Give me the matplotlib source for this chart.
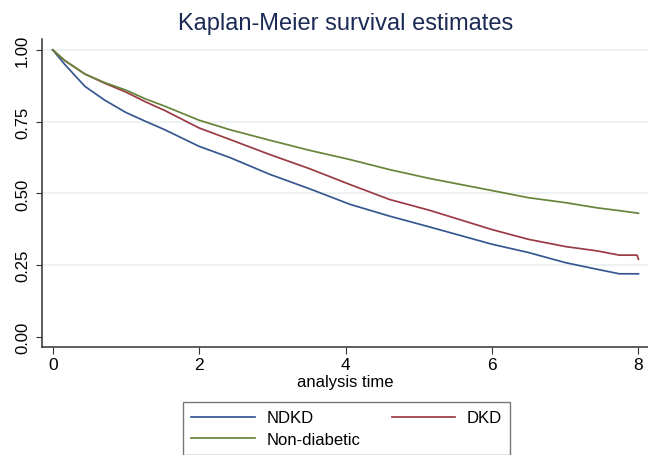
import numpy as np
import matplotlib.pyplot as plt

plt.rcParams['font.family'] = ['Liberation Sans', 'DejaVu Sans']

# values (analysis time, survival)
t_ndkd = [0, 0.17, 0.44, 0.71, 1.0, 1.26, 1.53, 2.0, 2.42, 2.97, 3.51, 4.06, 4.6, 5.15, 6.0, 6.5, 7.0, 7.43, 7.74, 8.0]
s_ndkd = [1.0, 0.948, 0.873, 0.825, 0.782, 0.752, 0.722, 0.664, 0.625, 0.566, 0.516, 0.462, 0.421, 0.383, 0.323, 0.294, 0.259, 0.236, 0.22, 0.22]

t_dkd = [0, 0.17, 0.44, 0.71, 1.0, 1.26, 1.53, 2.0, 2.42, 2.97, 3.51, 4.06, 4.6, 5.15, 6.0, 6.5, 7.0, 7.43, 7.74, 7.98, 8.0]
s_dkd = [1.0, 0.962, 0.916, 0.884, 0.853, 0.820, 0.789, 0.728, 0.688, 0.635, 0.586, 0.531, 0.479, 0.441, 0.374, 0.340, 0.315, 0.300, 0.285, 0.285, 0.271]

t_nond = [0, 0.17, 0.44, 0.71, 1.0, 1.26, 1.53, 2.0, 2.42, 2.97, 3.51, 4.06, 4.6, 5.15, 6.0, 6.5, 7.0, 7.43, 7.74, 8.0]
s_nond = [1.0, 0.962, 0.916, 0.886, 0.860, 0.830, 0.804, 0.755, 0.722, 0.685, 0.650, 0.618, 0.583, 0.552, 0.510, 0.485, 0.468, 0.45, 0.44, 0.431]

xticks = [0, 2, 4, 6, 8]
yticks = [0.0, 0.25, 0.5, 0.75, 1.0]

fig = plt.figure(figsize=(6.48, 4.56), dpi=100)
ax = fig.add_axes([42/648, 108/456, 1 - 42/648, (348-40)/456])

# grid (Stata style, not at 0)
for yv in yticks[1:]:
    ax.axhline(yv, color='#e9efef', lw=1.2, zorder=0)

l1, = ax.plot(t_ndkd, s_ndkd, color='#36578f', lw=1.25, label='NDKD')
l2, = ax.plot(t_dkd, s_dkd, color='#9a3b43', lw=1.25, label='DKD')
l3, = ax.plot(t_nond, s_nond, color='#66843a', lw=1.25, label='Non-diabetic')

ax.set_xlim(-0.146, 8.13)
ax.set_ylim(-0.035, 1.038)
ax.set_xticks(xticks)
ax.set_yticks(yticks)
ax.set_yticklabels(['%.2f' % v for v in yticks], rotation=90, va='center')
ax.tick_params(axis='y', length=4, pad=4.5, labelsize=12, color='#333333')
ax.tick_params(axis='x', length=5, pad=2, labelsize=12.5, color='#333333')

for side in ['top', 'right']:
    ax.spines[side].set_visible(False)
for side in ['left', 'bottom']:
    ax.spines[side].set_color('#333333')
    ax.spines[side].set_linewidth(1.1)

ax.set_xlabel('analysis time', fontsize=12, labelpad=2)
fig.text(346/648, 1 - 24/456, 'Kaplan-Meier survival estimates', fontsize=17,
         color='#1c2b55', ha='center', va='center')

# column-major fill: NDKD / Non-diabetic in col 1, DKD in col 2
leg = fig.legend([l1, l3, l2], ['NDKD', 'Non-diabetic', 'DKD'],
                 loc='upper left', bbox_to_anchor=(183/648, 1 - 403/456), ncol=2,
                 fontsize=12, handlelength=3.8, handletextpad=0.7, columnspacing=1.9,
                 frameon=True, fancybox=False, borderpad=0.5, labelspacing=0.4,
                 borderaxespad=0)
leg.get_frame().set_edgecolor('#555555')
leg.get_frame().set_linewidth(1.0)

fig.savefig('out.png', dpi=100)
